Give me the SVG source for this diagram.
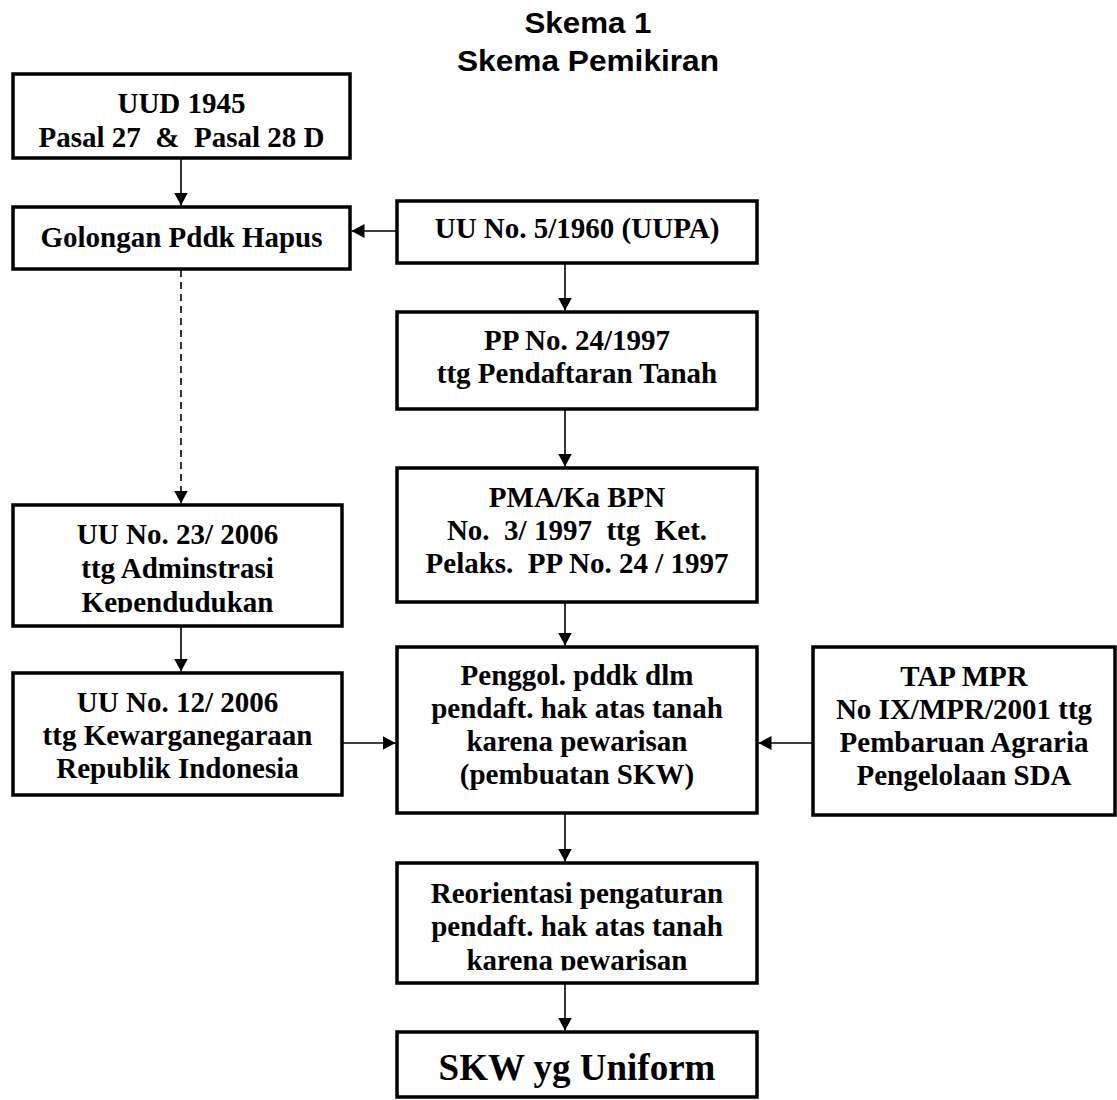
<svg xmlns="http://www.w3.org/2000/svg" width="1117" height="1100" viewBox="0 0 1117 1100">
<style>
.box{fill:#fff;stroke:#000;stroke-width:3.5}
.t{font-family:"Liberation Serif","Times New Roman",serif;font-weight:bold;font-size:29px;fill:#000;text-anchor:middle;white-space:pre}
.title{font-family:"Liberation Sans",Arial,sans-serif;font-weight:bold;font-size:29px;fill:#000;text-anchor:middle}
.c{stroke:#000;stroke-width:1.6;fill:none}
.d{stroke-dasharray:7,5}
</style>
<defs>
<marker id="ah" viewBox="0 0 13 14" refX="13" refY="7" markerWidth="13" markerHeight="14" markerUnits="userSpaceOnUse" orient="auto">
<path d="M0,0 L13,7 L0,14 z" fill="#000"/>
</marker>
<clipPath id="clip23"><rect x="0" y="500" width="360" height="112.5"/></clipPath>
<clipPath id="clipRe"><rect x="390" y="860" width="380" height="110.5"/></clipPath>
</defs>
<g id="title">
<text class="title" x="588" y="33" textLength="127" lengthAdjust="spacingAndGlyphs">Skema 1</text>
<text class="title" x="588" y="71" textLength="262" lengthAdjust="spacingAndGlyphs">Skema Pemikiran</text>
</g>
<g id="connectors">
<line class="c" x1="181" y1="158" x2="181" y2="205.5" marker-end="url(#ah)"/>
<line class="c" x1="397" y1="231" x2="351.5" y2="231" marker-end="url(#ah)"/>
<line class="c d" x1="181" y1="270" x2="181" y2="503.5" marker-end="url(#ah)"/>
<line class="c" x1="565" y1="263" x2="565" y2="310.5" marker-end="url(#ah)"/>
<line class="c" x1="565" y1="409" x2="565" y2="466.5" marker-end="url(#ah)"/>
<line class="c" x1="565" y1="602" x2="565" y2="645.5" marker-end="url(#ah)"/>
<line class="c" x1="181" y1="626" x2="181" y2="671.5" marker-end="url(#ah)"/>
<line class="c" x1="342" y1="743" x2="395.5" y2="743" marker-end="url(#ah)"/>
<line class="c" x1="813" y1="743" x2="758.5" y2="743" marker-end="url(#ah)"/>
<line class="c" x1="565" y1="813" x2="565" y2="861.5" marker-end="url(#ah)"/>
<line class="c" x1="565" y1="983" x2="565" y2="1030.5" marker-end="url(#ah)"/>
</g>
<g id="uud">
<rect class="box" x="13" y="74" width="337" height="84"/>
<text class="t" x="181.5" y="113">UUD 1945</text>
<text class="t" x="181.5" y="147">Pasal 27  &amp;  Pasal 28 D</text>
</g>
<g id="golongan">
<rect class="box" x="13" y="207" width="337" height="62"/>
<text class="t" x="181.5" y="247">Golongan Pddk Hapus</text>
</g>
<g id="uu5">
<rect class="box" x="397" y="201" width="360" height="62"/>
<text class="t" x="577" y="238">UU No. 5/1960 (UUPA)</text>
</g>
<g id="pp24">
<rect class="box" x="397" y="312" width="360" height="97"/>
<text class="t" x="577" y="350">PP No. 24/1997</text>
<text class="t" x="577" y="383">ttg Pendaftaran Tanah</text>
</g>
<g id="pma">
<rect class="box" x="397" y="468" width="360" height="134"/>
<text class="t" x="577" y="507">PMA/Ka BPN</text>
<text class="t" x="577" y="540">No.  3/ 1997  ttg  Ket.</text>
<text class="t" x="577" y="573">Pelaks.  PP No. 24 / 1997</text>
</g>
<g id="uu23">
<rect class="box" x="13" y="505" width="329" height="121"/>
<g clip-path="url(#clip23)">
<text class="t" x="177.5" y="544">UU No. 23/ 2006</text>
<text class="t" x="177.5" y="578">ttg Adminstrasi</text>
<text class="t" x="177.5" y="612">Kependudukan</text>
</g>
</g>
<g id="uu12">
<rect class="box" x="13" y="673" width="329" height="122"/>
<text class="t" x="177.5" y="712">UU No. 12/ 2006</text>
<text class="t" x="177.5" y="745">ttg Kewarganegaraan</text>
<text class="t" x="177.5" y="778">Republik Indonesia</text>
</g>
<g id="penggol">
<rect class="box" x="397" y="647" width="360" height="166"/>
<text class="t" x="577" y="685">Penggol. pddk dlm</text>
<text class="t" x="577" y="718">pendaft. hak atas tanah</text>
<text class="t" x="577" y="751">karena pewarisan</text>
<text class="t" x="577" y="784">(pembuatan SKW)</text>
</g>
<g id="tapmpr">
<rect class="box" x="813" y="647" width="302" height="168"/>
<text class="t" x="964" y="686">TAP MPR</text>
<text class="t" x="964" y="719">No IX/MPR/2001 ttg</text>
<text class="t" x="964" y="752">Pembaruan Agraria</text>
<text class="t" x="964" y="785">Pengelolaan SDA</text>
</g>
<g id="reorientasi">
<rect class="box" x="397" y="863" width="360" height="120"/>
<g clip-path="url(#clipRe)">
<text class="t" x="577" y="903">Reorientasi pengaturan</text>
<text class="t" x="577" y="936">pendaft. hak atas tanah</text>
<text class="t" x="577" y="970">karena pewarisan</text>
</g>
</g>
<g id="skw">
<rect class="box" x="397" y="1032" width="360" height="65"/>
<text class="t" x="577" y="1080" style="font-size:37px">SKW yg Uniform</text>
</g>
</svg>
